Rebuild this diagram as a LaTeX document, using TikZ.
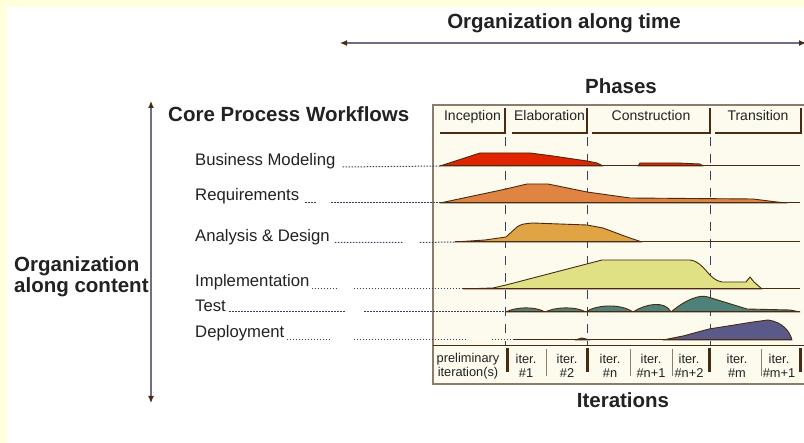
\documentclass[tikz,border=0pt]{standalone}
\usepackage{fontspec}
\setmainfont{Liberation Sans}
\usetikzlibrary{arrows.meta}
\definecolor{slide}{HTML}{FFFFDC}
\definecolor{paper}{HTML}{FDFAEE}
\definecolor{rim}{HTML}{8C7C6C}
\definecolor{umber}{HTML}{4A2A10}
\definecolor{ink}{HTML}{222222}
\definecolor{axis}{HTML}{6E6E86}
\definecolor{navy}{HTML}{3C3C5C}
\definecolor{bmod}{HTML}{E02400}
\definecolor{reqs}{HTML}{E08444}
\definecolor{anad}{HTML}{E0A444}
\definecolor{impl}{HTML}{E0E084}
\definecolor{tst}{HTML}{4E817A}
\definecolor{depl}{HTML}{5A5A8A}
\begin{document}
\begin{tikzpicture}[x=1pt,y=-1pt,
  bighead/.style={font=\fontsize{20.5}{21.5}\selectfont\bfseries,text=ink,inner sep=0pt},
  flow/.style={font=\fontsize{16.7}{18}\selectfont,text=ink,inner sep=0pt,anchor=base west},
  phase/.style={font=\fontsize{14}{16}\selectfont,text=ink,inner sep=0pt,minimum height=25pt,text height=10pt,text depth=9pt},
  iter/.style={font=\fontsize{12.8}{14}\selectfont,text=ink,inner sep=0pt,align=center},
  ledge/.style={umber,line width=2.5pt},
  lead/.style={navy,line width=1pt,dash pattern=on 1.5pt off 1.5pt},
  hump/.style={draw=umber,line width=0.9pt,line join=round},
  ground/.style={umber,line width=1pt},
  tick/.style={navy,line width=1pt,dash pattern=on 9pt off 8pt},
  axisarrow/.style={axis,line width=1.2pt,{Latex[length=7pt,width=6pt,color=umber]}-{Latex[length=7pt,width=6pt,color=umber]}}]
\fill[white] (0,0) rectangle (804,443);
\fill[slide] (0,0) rectangle (804,7);
\fill[slide] (0,0) rectangle (7,443);
\useasboundingbox (0,0) rectangle (804,443);
\draw[rim,line width=1.4pt,fill=paper] (433,105) rectangle (830,384);

% axes
\node[bighead,anchor=base] (time) at (564,29) {Organization along time};
\coordinate (tl) at (340,43); \coordinate (tr) at (806,43);
\draw[axisarrow] (tl) -- (tr);
\node[bighead,align=left,anchor=west] (content) at (14,276.5) {Organization\\along content};
\coordinate (ct) at (151,101); \coordinate (cb) at (151,403);
\draw[axisarrow] (cb) -- (ct);
\node[bighead,anchor=base] (phases) at (621,94) {Phases};
\node[bighead,anchor=base] (iters) at (623,408) {Iterations};
\node[bighead,anchor=base west] (core) at (168,121.5) {Core Process Workflows};

% phases
\node[phase,minimum width=65pt] (inc) at (472.5,120.5) {Inception};
\node[phase,minimum width=75pt] (ela) at (549.5,120.5) {Elaboration};
\node[phase,minimum width=118pt] (con) at (651,120.5) {Construction};
\node[phase,minimum width=86pt] (tra) at (758,120.5) {Transition};
\foreach \p in {inc,ela,con,tra}
  \draw[ledge] (\p.south west) -- (\p.south east) -- (\p.north east);
\foreach \p in {inc,ela,con}
  \draw[tick] (\p.south east) ++(0,4) -- ++(0,209);

% workflows
\node[flow] (bm) at (195,166) {Business Modeling};
\node[flow] (rq) at (195,201) {Requirements};
\node[flow] (ad) at (195,241.5) {Analysis \& Design};
\node[flow] (im) at (195,287) {Implementation};
\node[flow] (ts) at (195,312) {Test};
\node[flow] (dp) at (195,338) {Deployment};

\coordinate (bm0) at (440,166);
\draw[hump,fill=bmod] (bm0) -- (480,153) -- (530,153) -- (553,156) -- (587,161) -- (597,163) -- (603,166) -- cycle;
\draw[hump,fill=bmod] (638,166) -- (640,163) -- (678,163) -- (700,164) -- (703,166) -- cycle;
\draw[ground] (bm0) -- (800,166);

\coordinate (rq0) at (440,203);
\draw[hump,fill=reqs] (rq0) -- (506,189) -- (527,184) -- (548,184) -- (587,192) -- (630,198) -- (753,199) -- (777,202) -- (787,203) -- cycle;
\draw[ground] (rq0) -- (800,203);

\coordinate (ad0) at (455,242);
\draw[hump,fill=anad] (ad0) -- (485,240) -- (506,237) -- (517,227) .. controls (522,224) .. (533,223) -- (587,225) -- (603,228) -- (627,237) -- (642,242) -- cycle;
\draw[ground] (ad0) -- (800,242);

\coordinate (im0) at (463,289);
\draw[hump,fill=impl] (im0) -- (493,288) -- (506,285) -- (602,260) -- (690,260) .. controls (705,262) and (708,280) .. (722,282) -- (746,282) -- (750,277) -- (754,282) -- (762,289) -- cycle;
\draw[ground] (im0) -- (800,289);

\coordinate (ts0) at (506,312);
\draw[hump,fill=tst] (ts0) .. controls (515,307) and (535,306) .. (545,312) .. controls (555,307) and (575,306) .. (586,312)
  .. controls (595,305) and (620,303) .. (633,312) .. controls (645,304) and (665,300) .. (671,312)
  .. controls (685,300) and (700,294) .. (708,297) -- (747,309) -- (790,310) -- (800,312) -- cycle;
\draw[ground] (ts0) -- (800,312);

\coordinate (dp0) at (513,340);
\draw[hump,fill=depl] (575,340) -- (582,338) -- (590,340) -- cycle;
\draw[hump,fill=depl] (663,340) -- (683,336) -- (709,329) -- (753,322) -- (768,320) .. controls (783,322) and (790,332) .. (792,340) -- cycle;
\draw[ground] (dp0) -- (792,340);

\draw[lead] (bm.base east) ++(7,1) -- (bm0);
\draw[lead] (rq.base east) ++(6,2) -- ++(12,0) ++(14,0) -- (rq0);
\draw[lead] (ad.base east) ++(5,1) -- ++(68,0) ++(17,0) -- (ad0);
\draw[lead] (im.base east) ++(2,2) -- ++(27,0) ++(15,0) -- (im0);
\draw[lead] (ts.base east) ++(3,0) -- ++(117,0) ++(18,0) -- (ts0);
\draw[lead] (dp.base east) ++(2,2) -- ++(45,0) ++(22,0) -- ++(113,0) ++(25,0) -- (dp0);

% iterations
\draw[umber,line width=1pt] (433,346) -- (830,346);
\foreach \x in {507,587,709,800} \draw[umber,line width=3pt] (\x,348) -- (\x,372);
\foreach \x in {546,630,672,761} \draw[rim,line width=0.8pt] (\x,349) -- (\x,376);
\node[iter] (pre) at (468,366) {preliminary\\iteration(s)};
\foreach \x/\n/\t in {526/i1/\#1,567/i2/\#2,610/in/\#n,651/in1/\#n+1,689/in2/\#n+2,737/im/\#m,779/im1/\#m+1}
  \node[iter] (\n) at (\x,366) {iter.\\\t};
\end{tikzpicture}
\end{document}
